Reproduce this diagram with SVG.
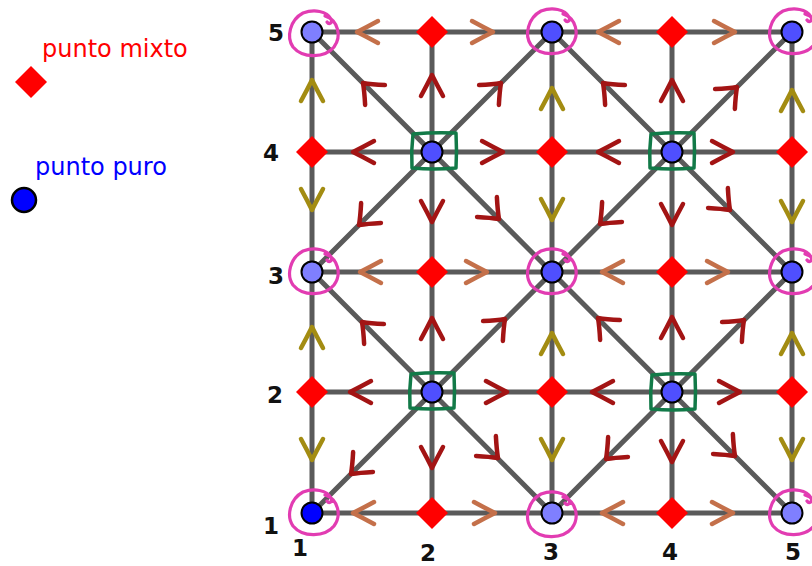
<svg xmlns="http://www.w3.org/2000/svg" xmlns:xlink="http://www.w3.org/1999/xlink" width="812" height="566" viewBox="0 0 812 566">
<style>
.edge{stroke:#5a5a5a;stroke-width:5;fill:none;stroke-linejoin:round}
.ch{fill:none;stroke-width:4.5;stroke-linecap:round;stroke-linejoin:round}
.or{stroke:#c4704a}
.ol{stroke:#a38c12}
.dr{stroke:#a31414}
.pink{fill:none;stroke:#e23cb2;stroke-width:3.2;stroke-linecap:round}
.green{fill:none;stroke:#127a48;stroke-width:3.5;stroke-linejoin:round}
.mix{fill:#ff0000}
.pure{stroke:#000;stroke-width:2}
.lt{fill:#7f7fff}
.md{fill:#4f4fff}
.dk{fill:#0000ff}
.ax{font-family:"DejaVu Sans",sans-serif;font-weight:bold;font-size:23px;fill:#111;text-anchor:middle}
.leg{font-family:"DejaVu Sans",sans-serif;font-size:24px}
</style>
<defs>
<path id="ch" d="M-21,-11 Q-10,-5 0,0 Q-10,5 -21,11"/>
<path id="dch" d="M-17,-14 Q-7,-5 0,0 Q-7,5 -17,14"/>
<path id="loop" d="M11,-18 C24,-14 28,2 20,13 C11,24 -11,25 -21,13 C-28,3 -24,-14 -11,-21 C0,-25 13,-23 17,-15 C19,-11 15,-9 13,-12"/>
<path id="sq" d="M-21,-17 Q0,-19 22,-18 Q23,0 22,17 Q0,19 -22,17 Q-23,0 -21,-17 Z"/>
<polygon id="dia" points="0,-16 16,0 0,16 -16,0"/>
</defs>

<g id="legend">
<use href="#dia" class="mix" x="31" y="82"/>
<text class="leg" x="42" y="57" fill="#ff0000">punto mixto</text>
<circle cx="24" cy="200" r="12" class="dk" stroke="#000" stroke-width="2.5"/>
<text class="leg" x="35" y="175" fill="#0000ff">punto puro</text>
</g>

<g id="connectors">
<path class="edge" d="M312,32H792M312,152H792M312,272H792M312,392H792M312,513H792"/>
<path class="edge" d="M312,32V513M432,32V513M552,32V513M672,32V513M792,32V513"/>
<path class="edge" d="M312,32L792,513M792,32L312,513M552,32L312,272L552,513L792,272Z"/>
</g>

<g id="arrows">
<g class="ch or">
<use href="#ch" transform="translate(357,32) rotate(180)"/>
<use href="#ch" transform="translate(493,32)"/>
<use href="#ch" transform="translate(598,32) rotate(180)"/>
<use href="#ch" transform="translate(735,32)"/>
<use href="#ch" transform="translate(360,272) rotate(180)"/>
<use href="#ch" transform="translate(487,272)"/>
<use href="#ch" transform="translate(602,272) rotate(180)"/>
<use href="#ch" transform="translate(728,272)"/>
<use href="#ch" transform="translate(353,513) rotate(180)"/>
<use href="#ch" transform="translate(495,513)"/>
<use href="#ch" transform="translate(602,513) rotate(180)"/>
<use href="#ch" transform="translate(733,513)"/>
</g>
<g class="ch ol">
<use href="#ch" transform="translate(312,80) rotate(-90)"/>
<use href="#ch" transform="translate(312,210) rotate(90)"/>
<use href="#ch" transform="translate(312,327) rotate(-90)"/>
<use href="#ch" transform="translate(312,460) rotate(90)"/>
<use href="#ch" transform="translate(552,88) rotate(-90)"/>
<use href="#ch" transform="translate(552,220) rotate(90)"/>
<use href="#ch" transform="translate(552,333) rotate(-90)"/>
<use href="#ch" transform="translate(552,460) rotate(90)"/>
<use href="#ch" transform="translate(792,90) rotate(-90)"/>
<use href="#ch" transform="translate(792,222) rotate(90)"/>
<use href="#ch" transform="translate(792,333) rotate(-90)"/>
<use href="#ch" transform="translate(792,460) rotate(90)"/>
</g>
<g class="ch dr">
<use href="#ch" transform="translate(353,152) rotate(180)"/>
<use href="#ch" transform="translate(503,152)"/>
<use href="#ch" transform="translate(598,152) rotate(180)"/>
<use href="#ch" transform="translate(733,152)"/>
<use href="#ch" transform="translate(350,392) rotate(180)"/>
<use href="#ch" transform="translate(507,392)"/>
<use href="#ch" transform="translate(592,392) rotate(180)"/>
<use href="#ch" transform="translate(740,392)"/>
<use href="#ch" transform="translate(432,75) rotate(-90)"/>
<use href="#ch" transform="translate(432,222) rotate(90)"/>
<use href="#ch" transform="translate(432,318) rotate(-90)"/>
<use href="#ch" transform="translate(432,468) rotate(90)"/>
<use href="#ch" transform="translate(672,80) rotate(-90)"/>
<use href="#ch" transform="translate(672,225) rotate(90)"/>
<use href="#ch" transform="translate(672,317) rotate(-90)"/>
<use href="#ch" transform="translate(672,462) rotate(90)"/>
<use href="#dch" transform="translate(363,83) rotate(-135)"/>
<use href="#dch" transform="translate(501,83) rotate(-45)"/>
<use href="#dch" transform="translate(603,83) rotate(-135)"/>
<use href="#dch" transform="translate(737,87) rotate(-45)"/>
<use href="#dch" transform="translate(359,225) rotate(135)"/>
<use href="#dch" transform="translate(499,219) rotate(45)"/>
<use href="#dch" transform="translate(600,224) rotate(135)"/>
<use href="#dch" transform="translate(730,210) rotate(45)"/>
<use href="#dch" transform="translate(362,322) rotate(-135)"/>
<use href="#dch" transform="translate(505,319) rotate(-45)"/>
<use href="#dch" transform="translate(598,318) rotate(-135)"/>
<use href="#dch" transform="translate(744,320) rotate(-45)"/>
<use href="#dch" transform="translate(351,474) rotate(135)"/>
<use href="#dch" transform="translate(498,458) rotate(45)"/>
<use href="#dch" transform="translate(606,459) rotate(135)"/>
<use href="#dch" transform="translate(735,456) rotate(45)"/>
</g>
</g>

<g id="m21"><use href="#dia" class="mix" x="432" y="32"/></g>
<g id="m41"><use href="#dia" class="mix" x="672" y="32"/></g>
<g id="m12"><use href="#dia" class="mix" x="312" y="152"/></g>
<g id="m32"><use href="#dia" class="mix" x="552" y="152"/></g>
<g id="m52"><use href="#dia" class="mix" x="792" y="152"/></g>
<g id="m23"><use href="#dia" class="mix" x="432" y="272"/></g>
<g id="m43"><use href="#dia" class="mix" x="672" y="272"/></g>
<g id="m14"><use href="#dia" class="mix" x="312" y="392"/></g>
<g id="m34"><use href="#dia" class="mix" x="552" y="392"/></g>
<g id="m54"><use href="#dia" class="mix" x="792" y="392"/></g>
<g id="m25"><use href="#dia" class="mix" x="432" y="513"/></g>
<g id="m45"><use href="#dia" class="mix" x="672" y="513"/></g>

<g id="p11"><use href="#loop" class="pink" x="314" y="34"/><circle cx="312" cy="32" r="10.5" class="pure lt"/></g>
<g id="p31"><use href="#loop" class="pink" x="552" y="32"/><circle cx="552" cy="32" r="10.5" class="pure md"/></g>
<g id="p51"><use href="#loop" class="pink" x="794" y="32"/><circle cx="792" cy="32" r="10.5" class="pure md"/></g>
<g id="p13"><use href="#loop" class="pink" x="314" y="272"/><circle cx="312" cy="272" r="10.5" class="pure lt"/></g>
<g id="p33"><use href="#loop" class="pink" x="552" y="272"/><circle cx="552" cy="272" r="10.5" class="pure md"/></g>
<g id="p53"><use href="#loop" class="pink" x="794" y="272"/><circle cx="792" cy="272" r="10.5" class="pure md"/></g>
<g id="p15"><use href="#loop" class="pink" x="314" y="513"/><circle cx="312" cy="513" r="10.5" class="pure dk"/></g>
<g id="p35"><use href="#loop" class="pink" x="552" y="515"/><circle cx="552" cy="513" r="10.5" class="pure lt"/></g>
<g id="p55"><use href="#loop" class="pink" x="794" y="513"/><circle cx="792" cy="513" r="10.5" class="pure lt"/></g>

<g id="p22"><use href="#sq" class="green" x="434" y="151"/><circle cx="432" cy="152" r="10.5" class="pure md"/></g>
<g id="p42"><use href="#sq" class="green" x="672" y="151"/><circle cx="672" cy="152" r="10.5" class="pure md"/></g>
<g id="p24"><use href="#sq" class="green" x="432" y="391"/><circle cx="432" cy="392" r="10.5" class="pure md"/></g>
<g id="p44"><use href="#sq" class="green" x="673" y="392"/><circle cx="672" cy="392" r="10.5" class="pure md"/></g>

<g id="axis-labels">
<text class="ax" x="276" y="41">5</text>
<text class="ax" x="271" y="161">4</text>
<text class="ax" x="276" y="284">3</text>
<text class="ax" x="275" y="403">2</text>
<text class="ax" x="271" y="534">1</text>
<text class="ax" x="300" y="556">1</text>
<text class="ax" x="428" y="561">2</text>
<text class="ax" x="551" y="560">3</text>
<text class="ax" x="670" y="560">4</text>
<text class="ax" x="793" y="560">5</text>
</g>
</svg>
